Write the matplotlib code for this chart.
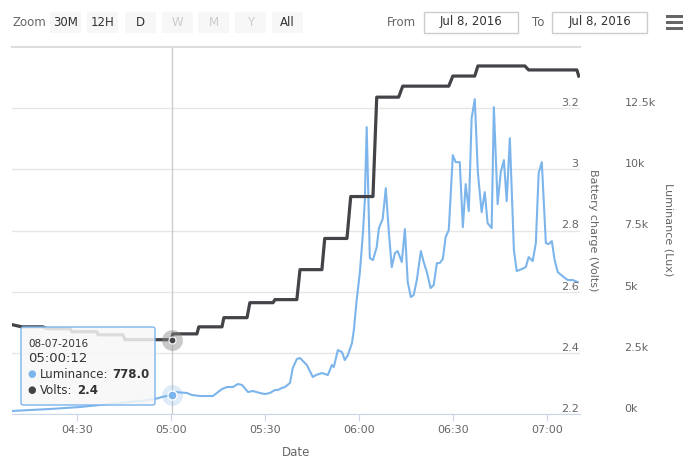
import numpy as np
import pandas as pd
import matplotlib.pyplot as plt
import matplotlib.dates as mdates
from matplotlib.patches import Rectangle, FancyBboxPatch

plt.rcParams['font.family'] = ['DejaVu Sans']

# Data (minutes after 04:00 on 08-07-2016)
lux_minutes = [9.3, 15.0, 21.4, 31.0, 40.5, 50.1, 54.9, 57.1, 60.2, 61.3, 65.1, 66.7,
               69.3, 73.4, 76.3, 77.9, 79.8, 81.4, 82.7, 84.6, 86.2, 88.4, 90.0, 91.6,
               93.2, 94.1, 95.4, 96.4, 98.0, 98.9, 100.2, 101.2, 103.4, 105.3, 106.3,
               108.2, 110.1, 111.4, 112.0, 113.3, 114.6, 115.5, 116.5, 117.8, 118.4,
               119.3, 120.3, 121.3, 121.9, 122.5, 123.5, 124.5, 125.7, 126.4, 127.6,
               128.6, 129.6, 130.5, 131.5, 132.4, 133.7, 134.7, 135.6, 136.6, 137.5,
               138.5, 139.8, 140.7, 141.7, 142.9, 143.9, 144.9, 145.8, 146.8, 147.7,
               148.7, 150.0, 150.9, 152.2, 153.2, 154.1, 155.1, 156.0, 157.0, 158.0,
               159.2, 160.2, 161.1, 162.4, 163.1, 164.3, 165.3, 166.3, 167.2, 168.2,
               169.5, 170.4, 172.0, 173.3, 174.2, 175.5, 176.5, 177.4, 178.4, 179.7,
               180.6, 181.6, 182.5, 183.5, 185.4, 186.7, 188.3, 189.9]
lux_values = [123, 163, 204, 286, 409, 531, 613, 694, 778, 899, 858, 776,
              735, 735, 1021, 1103, 1103, 1226, 1185, 899, 940, 858, 817, 858,
              980, 980, 1062, 1103, 1266, 1879, 2247, 2288, 2002, 1511, 1593,
              1675, 1593, 2002, 1920, 2614, 2533, 2206, 2410, 2900, 3431,
              4657, 5760, 7394, 8742, 11724, 6373, 6291, 6822, 7598, 7966,
              9232, 7394, 6005, 6577, 6659, 6209, 7557, 5392, 4779, 4861,
              5474, 6659, 6209, 5801, 5147, 5270, 6168, 6168, 6332, 7230,
              7516, 10580, 10294, 10294, 7639, 9396, 8293, 12092, 12868, 9845,
              8252, 9069, 7802, 7598, 12541, 8579, 9886, 10376, 8701, 11275,
              6699, 5842, 5923, 6005, 6413, 6250, 6985, 9845, 10294, 6985,
              6945, 7067, 6291, 5801, 5596, 5474, 5474, 5392]

volt_minutes = [9.3, 12.4, 19.1, 20.4, 27.8, 28.4, 36.4, 36.7, 44.7, 45.3, 60.2, 60.6,
                68.3, 68.9, 76.3, 76.9, 84.3, 85.2, 92.6, 93.2, 100.2, 101.2, 108.2,
                109.1, 116.2, 117.4, 124.5, 125.7, 132.7, 134.0, 148.7, 150.0, 157.0,
                158.0, 173.0, 174.2, 189.6, 190.2]
volt_values = [2.492, 2.485, 2.485, 2.479, 2.479, 2.469, 2.469, 2.459, 2.459, 2.443,
               2.443, 2.462, 2.462, 2.485, 2.485, 2.515, 2.515, 2.564, 2.564, 2.574,
               2.574, 2.672, 2.672, 2.774, 2.774, 2.911, 2.911, 3.236, 3.236, 3.272,
               3.272, 3.305, 3.305, 3.338, 3.338, 3.325, 3.325, 3.305]

hover_minute = 60.2
hover_lux = 778.0
hover_volts = 2.443

volt_ticks = [2.2, 2.4, 2.6, 2.8, 3.0, 3.2]
volt_labels = ['2.2', '2.4', '2.6', '2.8', '3', '3.2']
lux_ticks = [0, 2500, 5000, 7500, 10000, 12500]
lux_labels = ['0k', '2.5k', '5k', '7.5k', '10k', '12.5k']
zoom_buttons = ['30M', '12H', 'D', 'W', 'M', 'Y', 'All']
disabled_buttons = ['W', 'M', 'Y']
range_from = 'Jul 8, 2016'
range_to = 'Jul 8, 2016'

start = pd.Timestamp('2016-07-08 04:00:00')


def when(m):
    return start + pd.to_timedelta(np.atleast_1d(np.asarray(m, dtype=float)), unit='min')


W, H = 694, 468
fig = plt.figure(figsize=(W / 100, H / 100), dpi=100)


def fx(px):
    return px / W


def fy(py):
    return 1 - py / H


def box(x0, y0, x1, y1, **kw):
    r = Rectangle((fx(x0), fy(y1)), fx(x1) - fx(x0), fy(y0) - fy(y1),
                  transform=fig.transFigure, **kw)
    fig.add_artist(r)
    return r


ax = fig.add_axes([fx(12), fy(414), fx(580) - fx(12), fy(47) - fy(414)])
ax_v = ax.twinx()

# luminance axis (outer labels)
ax.set_ylim(0, 15000)
ax.yaxis.tick_right()
ax.set_yticks(lux_ticks, lux_labels, va='bottom', ha='left')
ax.tick_params(axis='y', length=0, pad=32, labelsize=8, labelcolor='#666666')
ax.yaxis.grid(True, color='#e6e6e6', lw=1)
ax.set_axisbelow(True)

# volts axis (inner labels)
ax_v.set_ylim(2.2, 3.4)
ax_v.set_yticks(volt_ticks, volt_labels, va='bottom', ha='right')
ax_v.tick_params(axis='y', length=0, pad=-1, labelsize=8, labelcolor='#666666')

ax.set_xlim(when(9.26)[0], when(190.6)[0])
ax.xaxis.set_major_locator(mdates.MinuteLocator(byminute=[0, 30]))
ax.xaxis.set_major_formatter(mdates.DateFormatter('%H:%M'))
ax.tick_params(axis='x', length=5, color='#ccd6eb', labelcolor='#666666',
               labelsize=8, pad=3)

for s in ['left', 'right']:
    ax.spines[s].set_visible(False)
ax.spines['bottom'].set_color('#ccd6eb')
ax.spines['top'].set_color('#dddddd')
ax.spines['top'].set_linewidth(1.5)
for s in ax_v.spines.values():
    s.set_visible(False)

# crosshair
t_hover = when(hover_minute)
ax.axvline(t_hover[0], color='#cccccc', lw=1, zorder=1)

# series
ax.plot(when(lux_minutes), lux_values, color='#7cb5ec', lw=1.5, zorder=3,
        solid_joinstyle='round')
ax_v.plot(when(volt_minutes), volt_values, color='#434348', lw=2.3, zorder=3,
          solid_joinstyle='round')

# hover markers
ax.plot(t_hover, [hover_lux], 'o', ms=15, color='#7cb5ec', alpha=0.25, mec='none', zorder=4)
ax.plot(t_hover, [hover_lux], 'o', ms=6.5, color='#7cb5ec', mec='white', mew=1, zorder=5)
ax_v.plot(t_hover, [hover_volts], 'o', ms=15, color='#888888', alpha=0.45, mec='none', zorder=4)
ax_v.plot(t_hover, [hover_volts], 'o', ms=5, color='#434348', mec='white', mew=0.8, zorder=5)

# axis titles
fig.text(fx(593), fy(230), 'Battery charge (Volts)', rotation=270, ha='center',
         va='center', fontsize=8, color='#666666')
fig.text(fx(668), fy(230), 'Luminance (Lux)', rotation=270, ha='center',
         va='center', fontsize=8, color='#666666')
fig.text(fx(296), fy(452), 'Date', ha='center', va='center', fontsize=8.5,
         color='#666666')

# tooltip
tip = FancyBboxPatch((fx(21), fy(405)), fx(155) - fx(21), fy(327) - fy(405),
                     boxstyle='round,pad=0,rounding_size=0.004',
                     transform=fig.transFigure, facecolor=(0.97, 0.97, 0.97, 0.85),
                     edgecolor='#7cb5ec', lw=1, zorder=10, clip_on=False)
ax_v.add_patch(tip)
ax_v.text(fx(28), fy(344), '08-07-2016', transform=fig.transFigure, fontsize=7.5,
          color='#333333', va='center', zorder=11)
ax_v.text(fx(28), fy(358), '05:00:12', transform=fig.transFigure, fontsize=9.5,
          color='#333333', va='center', zorder=11)
ax_v.text(fx(32), fy(374), '\u25cf', transform=fig.transFigure, fontsize=7,
          color='#7cb5ec', ha='center', va='center', zorder=11)
t1 = ax_v.text(fx(40), fy(374), 'Luminance:', transform=fig.transFigure, fontsize=8.5,
               color='#333333', va='center', zorder=11)
ax_v.annotate('778.0', xy=(1, 0.5), xycoords=t1, xytext=(3, 0),
              textcoords='offset points', fontsize=8.5, fontweight='bold',
              color='#333333', va='center', ha='left', zorder=11,
              annotation_clip=False)
ax_v.text(fx(32), fy(390), '\u25cf', transform=fig.transFigure, fontsize=7,
          color='#434348', ha='center', va='center', zorder=11)
t2 = ax_v.text(fx(40), fy(390), 'Volts:', transform=fig.transFigure, fontsize=8.5,
               color='#333333', va='center', zorder=11)
ax_v.annotate('2.4', xy=(1, 0.5), xycoords=t2, xytext=(3, 0),
              textcoords='offset points', fontsize=8.5, fontweight='bold',
              color='#333333', va='center', ha='left', zorder=11,
              annotation_clip=False)

# range selector header
fig.text(fx(12), fy(22), 'Zoom', fontsize=8.5, color='#666666', va='center')
button_x = [50, 87, 125, 162, 198, 235, 272]
for name, x0 in zip(zoom_buttons, button_x):
    box(x0, 12, x0 + 31, 33, facecolor='#f7f7f7', edgecolor='none')
    col = '#cccccc' if name in disabled_buttons else '#333333'
    fig.text(fx(x0 + 15.5), fy(22.5), name, fontsize=8.5, color=col,
             ha='center', va='center')

fig.text(fx(387), fy(22), 'From', fontsize=8.5, color='#666666', va='center')
box(424, 12, 518, 33, facecolor='white', edgecolor='#cccccc', lw=1)
fig.text(fx(471), fy(22), range_from, fontsize=8.5, color='#333333',
         ha='center', va='center')
fig.text(fx(532), fy(22), 'To', fontsize=8.5, color='#666666', va='center')
box(552, 12, 647, 33, facecolor='white', edgecolor='#cccccc', lw=1)
fig.text(fx(599.5), fy(22), range_to, fontsize=8.5, color='#333333',
         ha='center', va='center')

# menu icon
for yb in [15, 21, 27]:
    box(666, yb, 683, yb + 3, facecolor='#666666', edgecolor='none')

plt.savefig('out.png', dpi=100)
